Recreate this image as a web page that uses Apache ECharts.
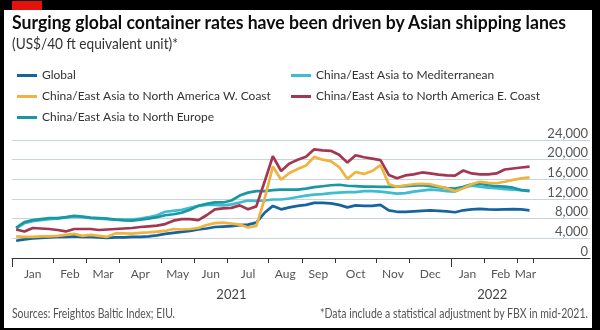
<!DOCTYPE html>
<html><head><meta charset="utf-8">
<script src="https://cdn.jsdelivr.net/npm/echarts@6/dist/echarts.min.js"></script>
<style>
html,body{margin:0;padding:0;background:#000;width:600px;height:330px;overflow:hidden;}
#panel{position:absolute;left:4px;top:10px;width:588px;height:318px;background:#fff;}
#red{position:absolute;left:12px;top:1px;width:30px;height:9px;background:#e3120b;}
#c{position:absolute;left:0;top:0;width:600px;height:330px;}
.t{position:absolute;white-space:nowrap;font-family:Lato,Roboto,sans-serif;line-height:1;}
#title{left:12px;top:12px;font-size:19px;font-weight:bold;color:#0d0d0d;transform-origin:0 0;}
#sub{left:12px;top:36px;font-size:15px;color:#333;transform-origin:0 0;}
#src{left:12px;top:308px;font-size:12.5px;color:#555;transform-origin:0 0;}
#note{top:308px;font-size:12.5px;color:#555;transform-origin:100% 0;}
</style>
</head><body>
<div id="panel"></div><div id="red"></div>
<div id="c"></div>
<div class="t" id="title">Surging global container rates have been driven by Asian shipping lanes</div>
<div class="t" id="sub">(US$/40 ft equivalent unit)*</div>
<div class="t" id="src">Sources: Freightos Baltic Index; EIU.</div>
<div class="t" id="note">*Data include a statistical adjustment by FBX in mid-2021.</div>
<script>
// ---- data (weekly, starting early Jan 2021) ----
const monthLabels = ['Jan','Feb','Mar','Apr','May','Jun','Jul','Aug','Sep','Oct','Nov','Dec','Jan','Feb','Mar'];
const monthTicks = [0,5,9,13,18,22,26,31,35,39,44,48,53,57,61,63];
const yearLabels = ['2021','2022'];
const yearTicks = [0,53,63];

const globalRate = [3500,3800,4000,4100,4200,4300,4300,4400,4300,4300,4200,4100,4200,4200,4300,4300,4400,4600,4900,5100,5300,5500,5800,6000,6300,6400,6500,6700,6800,7200,9200,10600,9900,10300,10600,10800,11200,11200,11100,10800,10300,10700,10600,10600,10800,9700,9400,9400,9500,9600,9700,9600,9500,9300,9700,9900,10000,9900,9850,9900,9950,9900,9700];
const medRate = [6000,7100,7500,7700,7900,8000,8200,8400,8300,8100,8000,7900,7800,7800,7800,8000,8300,8700,9400,9600,9800,10200,10600,10800,10800,10700,10900,11300,11700,11600,11700,11900,11900,12100,12400,12700,12900,13000,13200,13300,13400,13400,13600,13600,13500,13300,13100,13200,13500,13700,13900,13800,13600,13500,14300,14700,14500,14300,14200,14000,13900,13800,13700];
const northEuropeRate = [6200,7300,7700,7900,8100,8100,8300,8600,8400,8200,8100,8000,7800,7650,7600,7800,8000,8300,8700,8900,9200,9800,10600,11000,11300,11300,11700,12700,13300,13600,13600,13800,13900,13900,13900,14100,14400,14600,14800,14900,14700,14600,14500,14500,14450,14450,14500,14600,14700,14800,14600,14400,14200,14100,14500,15000,15100,14800,14600,14500,14300,13800,13600];
const eastCoastRate = [5800,5400,6100,6000,5900,5700,5400,5900,5900,5900,5700,5800,5900,6000,6100,6300,6450,6600,6900,7600,7900,7900,7700,8700,9900,10100,10200,10700,9900,10500,15500,20700,17700,19200,20000,20600,22100,21900,21800,21000,19400,20900,20500,20200,19900,16900,16200,16800,17000,17400,17200,16950,16800,16750,17800,17200,17000,17000,17200,18000,18200,18400,18600];
const westCoastRate = [4400,4300,4300,4400,4400,4500,4700,4900,4500,4700,4500,4300,5000,5000,4950,5100,5200,5350,5500,5900,5800,5900,6100,6700,7100,7200,7000,6800,6200,6500,12000,18600,15900,17300,18100,18800,20600,20000,19700,18500,16100,17500,17100,17700,18900,15000,14500,14800,15000,15100,15000,14600,14200,13600,14200,15000,15500,15300,15200,15500,15900,16200,16400];

// fit the HTML headline/footer texts to the reference widths
function fit(id, width, anchorRight){
  const el = document.getElementById(id);
  const w = el.getBoundingClientRect().width;
  el.style.transform = 'scaleX(' + (width / w) + ')';
  if (anchorRight) el.style.left = (anchorRight - w) + 'px';
}
fit('title', 554); fit('sub', 166); fit('src', 163); fit('note', 268, 588);

const names = {
  g:'Global', med:'China/East Asia to Mediterranean', wc:'China/East Asia to North America W. Coast',
  ec:'China/East Asia to North America E. Coast', ne:'China/East Asia to North Europe'
};
const colors = {g:'#16649f', med:'#3ebcd2', wc:'#efb33e', ec:'#a33752', ne:'#1a98a2'};

const F = "Lato,Roboto,sans-serif";
const toXY = arr => arr.map((v,i)=>[i+0.5,v]);
const mids = t => t.slice(0,-1).map((v,i)=>(v+t[i+1])/2);
const monthLabelPos = mids(monthTicks);
const yearLabelPos = mids(yearTicks);
const nearest = (pos, labels, v) => { let b=0; pos.forEach((p,i)=>{ if(Math.abs(p-v)<Math.abs(pos[b]-v)) b=i;}); return labels[b]; };

const XMAX = 69.8;
const axisColor = '#333';

function line(key, data){
  return {name:names[key], type:'line', data:toXY(data), showSymbol:false, symbol:'none',
    lineStyle:{width:2.7, color:colors[key]}, itemStyle:{color:colors[key]}, xAxisIndex:0, animation:false};
}
const legendText = {fontFamily:F, fontSize:12, color:'#333', lineHeight:15};

const chart = echarts.init(document.getElementById('c'), null, {renderer:'canvas'});
chart.setOption({
  backgroundColor:'transparent',
  animation:false,
  textStyle:{fontFamily:F},
  grid:{left:12, right:10, top:140, bottom:72, containLabel:false},
  legend:[
    {left:12, top:63, orient:'vertical', itemGap:6, itemWidth:20, itemHeight:3, icon:'rect',
     data:[names.g, names.wc, names.ne], selectedMode:false, textStyle:legendText},
    {left:286, top:63, orient:'vertical', itemGap:6, itemWidth:20, itemHeight:3, icon:'rect',
     data:[names.med, names.ec], selectedMode:false, textStyle:legendText}
  ],
  xAxis:[
    {type:'value', min:0, max:XMAX, position:'bottom',
     axisLine:{show:true, lineStyle:{color:axisColor, width:1}},
     axisTick:{show:true, customValues:monthTicks, length:5, lineStyle:{color:axisColor}},
     axisLabel:{show:true, customValues:monthLabelPos, margin:10, fontFamily:F, fontSize:12, color:'#555',
       formatter:v=>nearest(monthLabelPos, monthLabels, v)},
     splitLine:{show:false}},
    {type:'value', min:0, max:XMAX, position:'bottom', offset:0,
     axisLine:{show:false}, axisLabel:{show:false},
     axisTick:{show:true, customValues:yearTicks.slice(0,2), length:9, lineStyle:{color:axisColor}},
     splitLine:{show:false}},
    {type:'value', min:0, max:XMAX, position:'bottom', offset:20,
     axisLine:{show:false}, axisTick:{show:false},
     axisLabel:{show:true, customValues:yearLabelPos, margin:10, fontFamily:F, fontSize:13, color:'#444',
       formatter:v=>nearest(yearLabelPos, yearLabels, v)},
     splitLine:{show:false}}
  ],
  yAxis:{type:'value', min:0, max:24000, interval:4000, position:'right',
    axisLine:{show:false}, axisTick:{show:false},
    axisLabel:{inside:true, margin:2, verticalAlign:'bottom', fontFamily:F, fontSize:13, color:'#555',
      formatter:v=>v.toLocaleString('en-US')},
    splitLine:{show:true, lineStyle:{color:'#c9d3db', width:1}}},
  series:[
    line('g', globalRate),
    line('med', medRate),
    line('ne', northEuropeRate),
    line('ec', eastCoastRate),
    line('wc', westCoastRate)
  ]
});
</script>
</body></html>
